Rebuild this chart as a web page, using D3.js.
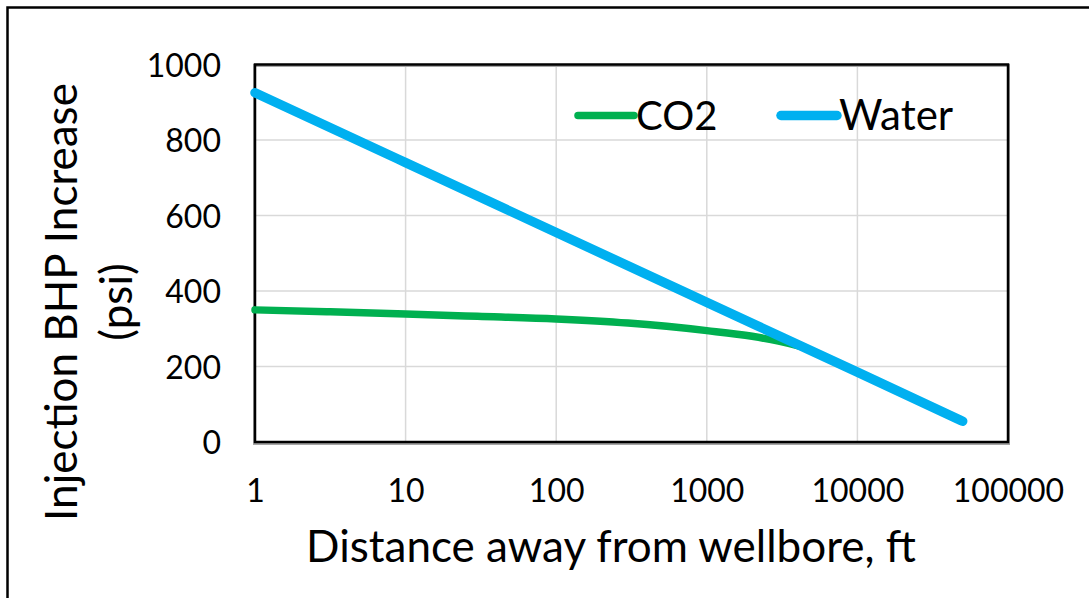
<!DOCTYPE html>
<html>
<head>
<meta charset="utf-8">
<script src="https://cdn.jsdelivr.net/npm/d3@7/dist/d3.min.js"></script>
<style>
  html, body { margin: 0; padding: 0; background: #fff; }
  svg { display: block; }
  text { font-family: Lato, "Open Sans", sans-serif; fill: #000; }
</style>
</head>
<body>
<svg id="chart" width="1089" height="598"></svg>
<script>
// ---- data ----
const xTicks = [1, 10, 100, 1000, 10000, 100000];
const xTickLabels = ["1", "10", "100", "1000", "10000", "100000"];
const yTicks = [0, 200, 400, 600, 800, 1000];
const yTickLabels = ["0", "200", "400", "600", "800", "1000"];

const seriesNames = ["CO2", "Water"];
const co2Distance = [1, 3, 10, 30, 100, 300, 1000, 2000, 3000, 4000, 4600];
const co2Values   = [350, 345, 339, 333, 326, 315, 295, 280, 267, 255, 248];
const waterDistance = [1, 10, 100, 1000, 10000, 50000];
const waterValues   = [925, 740, 555, 370, 185, 55];

const xTitle = "Distance away from wellbore, ft";
const yTitleLines = ["Injection BHP Increase", "(psi)"];

// ---- layout ----
const svg = d3.select("#chart");
const pLeft = 255, pRight = 1008, pTop = 64.5, pBottom = 442;
const colors = { CO2: "#00B050", Water: "#00B0F0" };

// outer frame
svg.append("rect").attr("x", 7.5).attr("y", 7.5).attr("width", 1200).attr("height", 700)
  .attr("fill", "none").attr("stroke", "#000").attr("stroke-width", 2.5);

const x = d3.scaleLog().domain([1, 100000]).range([pLeft, pRight]);
const y = d3.scaleLinear().domain([0, 1000]).range([pBottom, pTop]);

// gridlines
svg.append("g").selectAll("line").data(xTicks).join("line")
  .attr("x1", d => x(d)).attr("x2", d => x(d)).attr("y1", pTop).attr("y2", pBottom)
  .attr("stroke", "#d9d9d9").attr("stroke-width", 1.5);
svg.append("g").selectAll("line").data(yTicks).join("line")
  .attr("x1", pLeft).attr("x2", pRight).attr("y1", d => y(d)).attr("y2", d => y(d))
  .attr("stroke", "#d9d9d9").attr("stroke-width", 1.5);

// axes labels via d3 axes (no lines)
const xAxis = d3.axisBottom(x).tickValues(xTicks).tickFormat((d, i) => xTickLabels[i]).tickSize(0).tickPadding(0);
const gx = svg.append("g").attr("transform", `translate(0,${pBottom})`).call(xAxis);
gx.select(".domain").remove();
gx.selectAll("text").attr("font-size", 32).attr("font-family", "Lato, sans-serif")
  .attr("dy", null).attr("y", 60).attr("fill", "#000");

const yAxis = d3.axisLeft(y).tickValues(yTicks).tickFormat((d, i) => yTickLabels[i]).tickSize(0).tickPadding(0);
const gy = svg.append("g").attr("transform", `translate(${pLeft},0)`).call(yAxis);
gy.select(".domain").remove();
gy.selectAll("text").attr("font-size", 32).attr("font-family", "Lato, sans-serif")
  .attr("x", -34).attr("dy", "0.36em").attr("fill", "#000");

// plot border (shadow + black)
svg.append("rect").attr("x", pLeft - 0.5).attr("y", pTop + 1).attr("width", pRight - pLeft + 1).attr("height", pBottom - pTop + 0.5)
  .attr("fill", "none").attr("stroke", "#a6a6a6").attr("stroke-width", 3);
svg.append("rect").attr("x", pLeft).attr("y", pTop).attr("width", pRight - pLeft).attr("height", pBottom - pTop)
  .attr("fill", "none").attr("stroke", "#000").attr("stroke-width", 2.5);

// lines
const line = d3.line().x(d => x(d[0])).y(d => y(d[1])).curve(d3.curveMonotoneX);
const co2Data = co2Distance.map((d, i) => [d, co2Values[i]]);
const waterData = waterDistance.map((d, i) => [d, waterValues[i]]);

svg.append("path").datum(co2Data).attr("d", line)
  .attr("fill", "none").attr("stroke", colors.CO2).attr("stroke-width", 7.5).attr("stroke-linecap", "round");
svg.append("path").datum(waterData).attr("d", line)
  .attr("fill", "none").attr("stroke", colors.Water).attr("stroke-width", 9.5).attr("stroke-linecap", "round");

// legend
const legendItems = [
  { name: seriesNames[0], x1: 578, x2: 634, tx: 636, fs: 40 },
  { name: seriesNames[1], x1: 781, x2: 837, tx: 839, fs: 42 }
];
const lg = svg.append("g");
legendItems.forEach(it => {
  lg.append("line").attr("x1", it.x1).attr("x2", it.x2).attr("y1", 115.5).attr("y2", 115.5)
    .attr("stroke", colors[it.name]).attr("stroke-width", it.name === "CO2" ? 7.5 : 9.5).attr("stroke-linecap", "round");
  lg.append("text").attr("x", it.tx).attr("y", 130).attr("font-size", it.fs).text(it.name);
});

// axis titles
svg.append("text").attr("x", 611).attr("y", 562).attr("text-anchor", "middle")
  .attr("font-size", 44).text(xTitle);

const yt = svg.append("text").attr("transform", "translate(77,302) rotate(-90)")
  .attr("text-anchor", "middle").attr("font-size", 44);
yt.append("tspan").attr("x", 0).attr("y", 0).text(yTitleLines[0]);
yt.append("tspan").attr("x", 0).attr("y", 55).text(yTitleLines[1]);
</script>
</body>
</html>
